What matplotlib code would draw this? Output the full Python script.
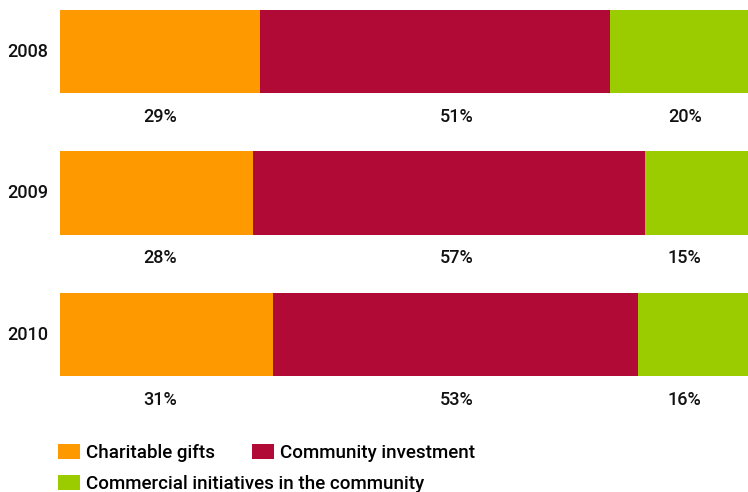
import matplotlib.pyplot as plt
from matplotlib.patches import Patch

plt.rcParams['font.family'] = ['Roboto', 'DejaVu Sans']
plt.rcParams['font.weight'] = 'medium'

# data
years = ["2008", "2009", "2010"]
charitable = [29, 28, 31]
community = [51, 57, 53]
commercial = [20, 15, 16]
series_names = ["Charitable gifts", "Community investment",
                "Commercial initiatives in the community"]
colors = ["#FE9A00", "#B10A36", "#9ACC00"]

fig = plt.figure(figsize=(7.48, 4.92), dpi=100)
ax = fig.add_axes([60 / 748, 0, 688 / 748, 1])

pos = list(range(len(years)))
bar_h = 0.587
left = [0] * len(years)
for vals, c in zip([charitable, community, commercial], colors):
    ax.barh(pos, vals, left=left, height=bar_h, color=c, linewidth=0)
    left = [l + v for l, v in zip(left, vals)]

# percentage labels below each bar (fixed columns)
label_x = [14.5, 57.6, 90.8]
for i in pos:
    for x, vals in zip(label_x, [charitable, community, commercial]):
        ax.text(x, i + 0.46, f"{vals[i]}%", ha="center", va="center",
                fontsize=13, color="#111111")
    ax.text(-4.7, i, years[i], ha="center", va="center", fontsize=13,
            color="#111111", clip_on=False)

ax.set_xlim(0, 100)
ax.set_ylim(3.113, -0.364)
ax.axis("off")

kw = dict(frameon=False, fontsize=13.5, handlelength=1.17, handleheight=0.8,
          handletextpad=0.3, borderpad=0, borderaxespad=0, labelspacing=0)
h = [Patch(color=c, linewidth=0) for c in colors]
leg1 = fig.legend(h[:2], series_names[:2], ncol=2, columnspacing=2.0,
                  loc="center left", bbox_to_anchor=(58 / 748, 1 - 453 / 492), **kw)
leg2 = fig.legend(h[2:], series_names[2:], loc="center left",
                  bbox_to_anchor=(58 / 748, 1 - 484 / 492), **kw)

fig.savefig("out.png", dpi=100)
